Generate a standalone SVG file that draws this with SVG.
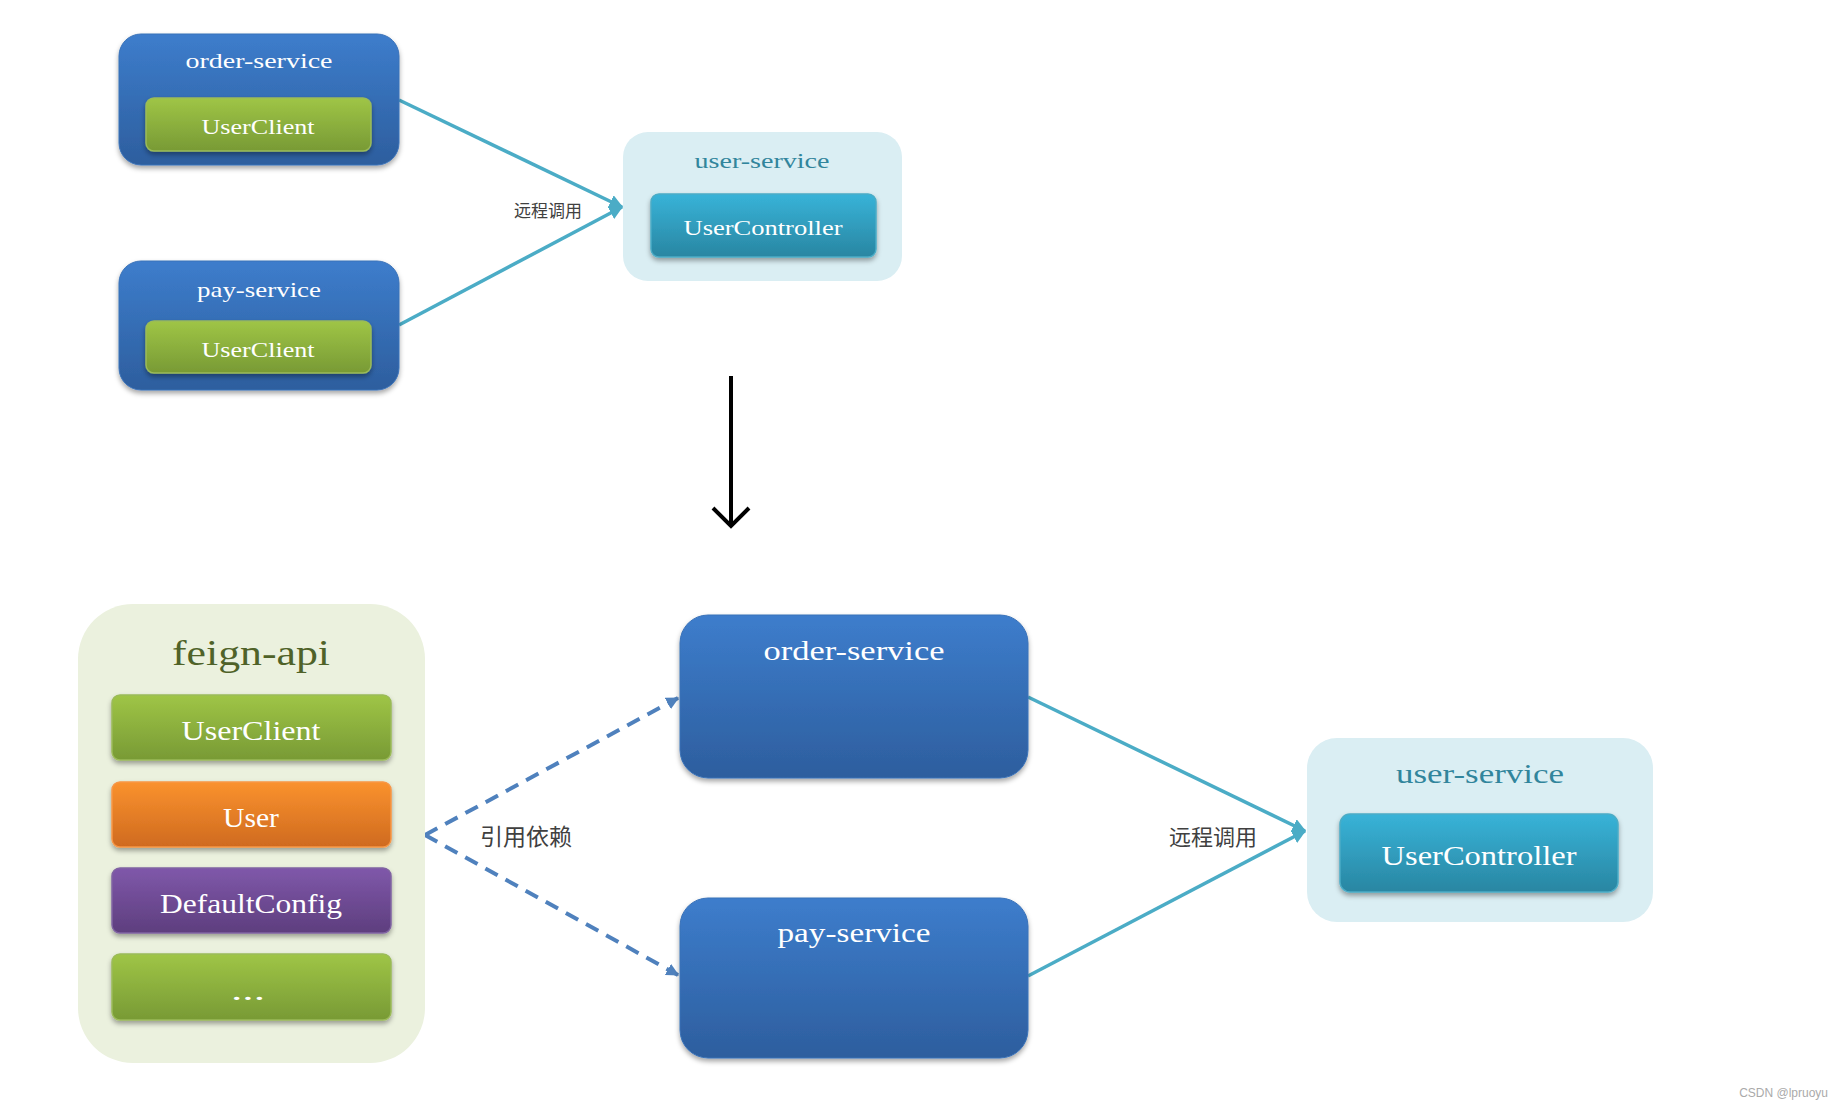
<svg xmlns="http://www.w3.org/2000/svg" width="1844" height="1108" viewBox="0 0 1844 1108">
<defs>
<linearGradient id="gBlue" x1="0" y1="0" x2="0" y2="1"><stop offset="0" stop-color="#3D7DCC"/><stop offset="1" stop-color="#2D5E9E"/></linearGradient>
<linearGradient id="gGreen" x1="0" y1="0" x2="0" y2="1"><stop offset="0" stop-color="#9FC546"/><stop offset="1" stop-color="#789A35"/></linearGradient>
<linearGradient id="gOrange" x1="0" y1="0" x2="0" y2="1"><stop offset="0" stop-color="#FA922E"/><stop offset="1" stop-color="#CF6A1F"/></linearGradient>
<linearGradient id="gPurple" x1="0" y1="0" x2="0" y2="1"><stop offset="0" stop-color="#7F58AA"/><stop offset="1" stop-color="#5E3E7E"/></linearGradient>
<linearGradient id="gCyan" x1="0" y1="0" x2="0" y2="1"><stop offset="0" stop-color="#38B3D8"/><stop offset="1" stop-color="#2986A2"/></linearGradient>
<filter id="sh" x="-10%" y="-10%" width="120%" height="130%"><feDropShadow dx="0" dy="3" stdDeviation="2.5" flood-color="#000" flood-opacity="0.35"/></filter>
<marker id="mCyan" viewBox="0 0 10 10" refX="9" refY="5" markerWidth="4" markerHeight="4" orient="auto" markerUnits="strokeWidth"><path d="M0,0 L10,5 L0,10 z" fill="#4BACC6"/></marker>
<marker id="mDash" viewBox="0 0 10 10" refX="9" refY="5" markerWidth="3.2" markerHeight="3.2" orient="auto" markerUnits="strokeWidth"><path d="M0,0 L10,5 L0,10 z" fill="#4F81BD"/></marker>
<style>
.blue{fill:url(#gBlue);stroke:#3A72B8;stroke-width:1;filter:url(#sh)}
.green{fill:url(#gGreen);stroke:#9BBB59;stroke-width:1.5;filter:url(#sh)}
.orange{fill:url(#gOrange);stroke:#F79646;stroke-width:1.5;filter:url(#sh)}
.purple{fill:url(#gPurple);stroke:#8064A2;stroke-width:1.5;filter:url(#sh)}
.cyan{fill:url(#gCyan);stroke:#4BACC6;stroke-width:1.5;filter:url(#sh)}
.lb{fill:#DAEEF3}
.lg{fill:#EBF1DE}
.t{font-family:"Liberation Serif","DejaVu Serif",serif;fill:#FFFFFF;text-anchor:middle}
.s{font-size:22px}
.b{font-size:27px}
.ts{fill:#31859C}
.tf{fill:#4F6228;font-size:35px}
.cn{font-family:"Noto Sans CJK SC","Noto Sans",sans-serif;fill:#404040}
.cl{fill:none;stroke:#4BACC6;stroke-width:3.5}
.dl{fill:none;stroke:#4F81BD;stroke-width:4;stroke-dasharray:14 9}
</style>
</defs>
<rect width="1844" height="1108" fill="#FFFFFF"/>

<g id="connectors">
<line class="cl" x1="399" y1="100" x2="622" y2="207" marker-end="url(#mCyan)"/>
<line class="cl" x1="399" y1="325" x2="622" y2="207" marker-end="url(#mCyan)"/>
<line class="cl" x1="1028" y1="697" x2="1305" y2="831" marker-end="url(#mCyan)"/>
<line class="cl" x1="1028" y1="976" x2="1305" y2="831" marker-end="url(#mCyan)"/>
<line class="dl" x1="425" y1="835" x2="678" y2="698" marker-end="url(#mDash)"/>
<line class="dl" x1="425" y1="835" x2="678" y2="975" marker-end="url(#mDash)"/>
<path d="M731,376 L731,524 M713,508 L731,526 L749,508" fill="none" stroke="#000" stroke-width="4"/>
<text class="cn" x="548" y="217" font-size="17" text-anchor="middle">远程调用</text>
<text class="cn" x="526" y="845" font-size="23" text-anchor="middle">引用依赖</text>
<text class="cn" x="1213" y="845" font-size="22" text-anchor="middle">远程调用</text>
</g>

<g id="order-service-top">
<rect class="blue" x="119" y="34" width="280" height="131" rx="22"/>
<text class="t s" x="259" y="68" textLength="147" lengthAdjust="spacingAndGlyphs">order-service</text>
</g>
<g id="userclient-top-1">
<rect class="green" x="146" y="98" width="225" height="53" rx="8"/>
<text class="t s" x="258" y="134" textLength="113" lengthAdjust="spacingAndGlyphs">UserClient</text>
</g>
<g id="pay-service-top">
<rect class="blue" x="119" y="261" width="280" height="129" rx="22"/>
<text class="t s" x="259" y="297" textLength="124" lengthAdjust="spacingAndGlyphs">pay-service</text>
</g>
<g id="userclient-top-2">
<rect class="green" x="146" y="321" width="225" height="52" rx="8"/>
<text class="t s" x="258" y="357" textLength="113" lengthAdjust="spacingAndGlyphs">UserClient</text>
</g>
<g id="user-service-top">
<rect class="lb" x="623" y="132" width="279" height="149" rx="25"/>
<text class="t s ts" x="762" y="168" textLength="135" lengthAdjust="spacingAndGlyphs">user-service</text>
</g>
<g id="usercontroller-top">
<rect class="cyan" x="651" y="194" width="225" height="63" rx="8"/>
<text class="t s" x="763" y="235" textLength="159" lengthAdjust="spacingAndGlyphs">UserController</text>
</g>

<g id="feign-api">
<rect class="lg" x="78" y="604" width="347" height="459" rx="55"/>
<text class="t tf" x="251" y="665" textLength="158" lengthAdjust="spacingAndGlyphs">feign-api</text>
</g>
<g id="userclient-api">
<rect class="green" x="112" y="695" width="279" height="65" rx="8"/>
<text class="t b" x="251" y="740" textLength="139" lengthAdjust="spacingAndGlyphs">UserClient</text>
</g>
<g id="user-api">
<rect class="orange" x="112" y="782" width="279" height="65" rx="8"/>
<text class="t b" x="251" y="827" textLength="56" lengthAdjust="spacingAndGlyphs">User</text>
</g>
<g id="defaultconfig-api">
<rect class="purple" x="112" y="868" width="279" height="65" rx="8"/>
<text class="t b" x="251" y="913" textLength="182" lengthAdjust="spacingAndGlyphs">DefaultConfig</text>
</g>
<g id="more-api">
<rect class="green" x="112" y="954" width="279" height="66" rx="8"/>
<text class="t b" x="248" y="1000" textLength="34" lengthAdjust="spacingAndGlyphs">...</text>
</g>

<g id="order-service">
<rect class="blue" x="680" y="615" width="348" height="163" rx="28"/>
<text class="t b" x="854" y="660" textLength="181" lengthAdjust="spacingAndGlyphs">order-service</text>
</g>
<g id="pay-service">
<rect class="blue" x="680" y="898" width="348" height="160" rx="28"/>
<text class="t b" x="854" y="942" textLength="153" lengthAdjust="spacingAndGlyphs">pay-service</text>
</g>
<g id="user-service">
<rect class="lb" x="1307" y="738" width="346" height="184" rx="30"/>
<text class="t b ts" x="1480" y="783" textLength="168" lengthAdjust="spacingAndGlyphs">user-service</text>
</g>
<g id="usercontroller">
<rect class="cyan" x="1340" y="814" width="278" height="78" rx="10"/>
<text class="t b" x="1479" y="865" textLength="195" lengthAdjust="spacingAndGlyphs">UserController</text>
</g>

<text x="1828" y="1097" font-family="Liberation Sans, Arial, sans-serif" font-size="12" fill="#AAAAAA" text-anchor="end">CSDN @lpruoyu</text>
</svg>
